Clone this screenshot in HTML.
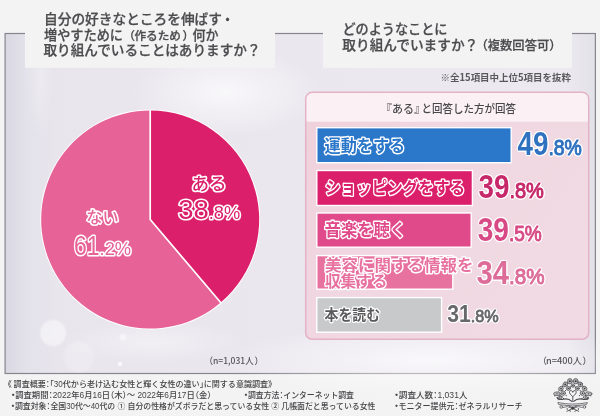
<!DOCTYPE html>
<html lang="ja">
<head>
<meta charset="utf-8">
<title>調査概要：30代から老け込む女性と輝く女性の違い</title>
<style>
  html, body { margin: 0; padding: 0; background: #f3f3f4; }
  body { width: 600px; height: 416px; overflow: hidden; position: relative;
         font-family: "Liberation Sans", "Noto Sans CJK JP", sans-serif; }
  svg { position: absolute; left: 0; top: 0; display: block; filter: blur(0.45px); }
  text { font-family: "Liberation Sans", "Noto Sans CJK JP", sans-serif; }
  .jp { font-family: "Noto Sans CJK JP", "Liberation Sans", sans-serif; }
  .hd { font-size: 13.6px; font-weight: 500; fill: #4c4c4f; stroke: #4c4c4f; stroke-width: 0.25px; }
  .ol { paint-order: stroke fill; stroke: #fff; stroke-linejoin: round; stroke-linecap: round; }
  .ol2 { stroke: #fff; stroke-width: 2px; stroke-linejoin: round; }
  .lbl { font-size: 17.4px; font-weight: 700; stroke-width: 2.8px; }
  .num { font-family: "Liberation Sans", sans-serif; font-weight: 700; }
  .num.ol { stroke-width: 2.6px; }
  .ft { font-size: 8.3px; font-weight: 500; fill: #454547; font-feature-settings: "halt"; }
</style>
</head>
<body>
<svg width="600" height="416" viewBox="0 0 600 416">
  <defs>
    <linearGradient id="bg" x1="0" y1="0" x2="1" y2="0">
      <stop offset="0" stop-color="#d9d7e1"/>
      <stop offset="0.035" stop-color="#e3e1e9"/>
      <stop offset="0.09" stop-color="#e8e5ed"/>
      <stop offset="0.5" stop-color="#ebe7ef"/>
      <stop offset="0.95" stop-color="#ece9f0"/>
      <stop offset="1" stop-color="#e3e1e8"/>
    </linearGradient>
    <radialGradient id="glow" cx="0.5" cy="0.5" r="0.5">
      <stop offset="0" stop-color="#ffffff" stop-opacity="0.85"/>
      <stop offset="1" stop-color="#ffffff" stop-opacity="0"/>
    </radialGradient>
    <radialGradient id="bokeh" cx="0.5" cy="0.5" r="0.5">
      <stop offset="0" stop-color="#ffffff" stop-opacity="0.55"/>
      <stop offset="0.8" stop-color="#ffffff" stop-opacity="0.5"/>
      <stop offset="1" stop-color="#ffffff" stop-opacity="0"/>
    </radialGradient>
    <linearGradient id="panel" x1="0" y1="0" x2="1" y2="0.6">
      <stop offset="0" stop-color="#efd0db"/>
      <stop offset="0.35" stop-color="#f0d6e0"/>
      <stop offset="1" stop-color="#f1dae3"/>
    </linearGradient>
    <clipPath id="panelclip"><rect x="305.7" y="92.3" width="283" height="247" rx="6.5"/></clipPath>
    <filter id="wo" x="-5%" y="-15%" width="110%" height="130%" color-interpolation-filters="sRGB">
      <feGaussianBlur in="SourceAlpha" stdDeviation="0.9" result="b"/>
      <feComponentTransfer in="b" result="d"><feFuncA type="linear" slope="9" intercept="-0.55"/></feComponentTransfer>
      <feFlood flood-color="#ffffff"/>
      <feComposite in2="d" operator="in" result="o"/>
      <feMerge><feMergeNode in="o"/><feMergeNode in="SourceGraphic"/></feMerge>
    </filter>
    <filter id="soft" x="-5%" y="-5%" width="110%" height="110%"><feGaussianBlur stdDeviation="0.4"/></filter>
  </defs>

  <!-- page -->
  <rect width="600" height="416" fill="#f3f3f4"/>

  <!-- frame -->
  <rect x="5.1" y="33.5" width="590.3" height="340" fill="url(#bg)" stroke="#86848d" stroke-width="1.2"/>
  <ellipse cx="225" cy="92" rx="95" ry="45" fill="url(#glow)" opacity="0.8"/>
  <ellipse cx="40" cy="80" rx="14" ry="60" fill="url(#glow)" opacity="0.35"/>
  <ellipse cx="430" cy="360" rx="210" ry="36" fill="url(#glow)" opacity="0.8"/>
  <ellipse cx="150" cy="342" rx="90" ry="22" fill="url(#glow)" opacity="0.45"/>
  <circle cx="53" cy="333" r="14.5" fill="url(#bokeh)" opacity="0.9"/>
  <circle cx="79" cy="357" r="17" fill="url(#bokeh)" opacity="0.4"/>
  <circle cx="123" cy="337" r="4" fill="url(#bokeh)" opacity="0.8"/>
  <circle cx="120" cy="364" r="2.2" fill="#ffffff" opacity="0.7"/>

  <!-- header boxes -->
  <rect x="25" y="0" width="250" height="67.8" fill="#f3f3f4"/>
  <rect x="323" y="0" width="249" height="67.8" fill="#f3f3f4"/>

  <g class="jp hd">
    <text y="23.7"><tspan x="44" textLength="178" lengthAdjust="spacingAndGlyphs">自分の好きなところを伸ばす</tspan><tspan x="220.8">・</tspan></text>
    <text y="39.9">
      <tspan x="44" textLength="79" lengthAdjust="spacingAndGlyphs">増やすために</tspan>
      <tspan x="123.5" font-size="11.4px">（</tspan>
      <tspan x="134.5" font-size="11.4px" textLength="46.5" lengthAdjust="spacingAndGlyphs">作るため</tspan>
      <tspan x="182.5" font-size="11.4px">）</tspan>
      <tspan x="192.5" textLength="26" lengthAdjust="spacingAndGlyphs">何か</tspan>
    </text>
    <text x="43.5" y="54.7" textLength="217" lengthAdjust="spacingAndGlyphs">取り組んでいることはありますか？</text>

    <text x="342.5" y="33.5" textLength="105" lengthAdjust="spacingAndGlyphs">どのようなことに</text>
    <text y="49.5">
      <tspan x="342.3" textLength="136" lengthAdjust="spacingAndGlyphs">取り組んでいますか？</tspan>
      <tspan x="475.5" font-size="12.4px" textLength="86" lengthAdjust="spacingAndGlyphs">（複数回答可）</tspan>
    </text>
  </g>

  <text class="jp" x="440.5" y="81" font-size="9.6px" font-weight="700" fill="#59595c" textLength="130.5" lengthAdjust="spacingAndGlyphs">※全15項目中上位5項目を抜粋</text>

  <!-- pie -->
  <g>
    <circle cx="150.2" cy="219.5" r="110" fill="#ffffff"/>
    <path d="M150.2 219.5 L150.2 110.5 A109 109 0 0 1 220.73 302.6 Z" fill="#dc1f6b"/>
    <path d="M150.2 219.5 L220.73 302.6 A109 109 0 1 1 150.2 110.5 Z" fill="#e66297"/>
    <path d="M150.2 110 L150.2 219.5 L221.1 303" fill="none" stroke="#ffffff" stroke-width="1.7" stroke-linejoin="round"/>
  </g>

  <text class="jp ol" x="209" y="190" text-anchor="middle" font-size="17.5px" font-weight="500" fill="#dc1f6b" stroke-width="3.2">ある</text>
  <g class="num ol" fill="#dc1f6b" style="font-weight:400; stroke-width:3.2px">
    <text transform="translate(178.2 219)"><tspan font-size="27.5px">38</tspan><tspan font-size="18.3px">.8%</tspan></text>
  </g>
  <text class="jp ol" x="102.5" y="223.3" text-anchor="middle" font-size="16.2px" font-weight="500" fill="#e66297" stroke-width="3.2">ない</text>
  <g class="num ol" fill="#e66297" style="font-weight:400; stroke-width:3.2px">
    <text transform="translate(74 254.8)"><tspan font-size="28.5px" textLength="25.6" lengthAdjust="spacingAndGlyphs">61</tspan><tspan font-size="18.3px">.2%</tspan></text>
  </g>

  <text class="jp" y="364.3" font-size="8.9px" font-weight="500" fill="#555557"><tspan x="204.2">（</tspan><tspan x="213" textLength="40.7" lengthAdjust="spacingAndGlyphs">n=1,031人</tspan><tspan x="254.6">）</tspan></text>

  <!-- right panel -->
  <rect x="305.7" y="92.3" width="283" height="247" rx="6.5" fill="url(#panel)"/>
  <rect x="305.7" y="92.3" width="283" height="29.4" fill="#fbf1f5" clip-path="url(#panelclip)"/>
  <rect x="305.7" y="92.3" width="283" height="247" rx="6.5" fill="none" stroke="#e4b2c6" stroke-width="1.5"/>
  <text class="jp" y="112.6" font-size="11px" font-weight="500" fill="#48484a"><tspan x="380.7">『</tspan><tspan x="392" textLength="22" lengthAdjust="spacingAndGlyphs">ある</tspan><tspan x="414.3">』</tspan><tspan x="421.5" textLength="94.5" lengthAdjust="spacingAndGlyphs">と回答した方が回答</tspan></text>

  <!-- bars -->
  <g stroke="#ffffff" stroke-width="1.4">
    <rect x="316.8" y="127.7" width="194.4" height="35" fill="#2b77c9"/>
    <rect x="316.8" y="170.5" width="155.6" height="35" fill="#dc1f6b"/>
    <rect x="316.8" y="213" width="154.4" height="34.2" fill="#e0498a"/>
    <rect x="316.8" y="255.6" width="136" height="33.6" fill="#e8729f"/>
    <rect x="316.8" y="297.6" width="124.8" height="34.6" fill="#c7c9ca"/>
  </g>

  <g class="jp lbl ol">
    <text x="324.6" y="151.6" fill="#2b77c9" textLength="80.5" lengthAdjust="spacingAndGlyphs">運動をする</text>
    <text x="325" y="193.8" fill="#dc1f6b" textLength="140" lengthAdjust="spacingAndGlyphs">ショッピングをする</text>
    <text x="324.6" y="236" fill="#e0498a" textLength="81.5" lengthAdjust="spacingAndGlyphs">音楽を聴く</text>
    <text x="325" y="271" fill="#e8729f" font-size="16.4px" textLength="148.5" lengthAdjust="spacingAndGlyphs">美容に関する情報を</text>
    <text x="325" y="287.3" fill="#e8729f" font-size="16.4px" textLength="62.5" lengthAdjust="spacingAndGlyphs">収集する</text>
    <text x="324.6" y="320" fill="#5a5a5d" font-size="14.8px" stroke-width="2.4" textLength="55.5" lengthAdjust="spacingAndGlyphs">本を読む</text>
  </g>

  <g class="num" filter="url(#wo)" stroke-linejoin="round">
    <text fill="#2f72bf" x="517.5" y="155.2"><tspan font-size="32.3px" textLength="30.9" lengthAdjust="spacingAndGlyphs">49</tspan><tspan font-weight="400" stroke="#2f72bf" stroke-width="1" font-size="22px" textLength="33.5" lengthAdjust="spacingAndGlyphs">.8%</tspan></text>
    <text fill="#c7286a" x="478.5" y="198.2"><tspan font-size="32.3px" textLength="30.9" lengthAdjust="spacingAndGlyphs">39</tspan><tspan font-weight="400" stroke="#c7286a" stroke-width="1" font-size="22px" textLength="34.5" lengthAdjust="spacingAndGlyphs">.8%</tspan></text>
    <text fill="#d84a85" x="477.7" y="241.2"><tspan font-size="32.3px" textLength="31.2" lengthAdjust="spacingAndGlyphs">39</tspan><tspan font-weight="400" stroke="#d84a85" stroke-width="1" font-size="22px" textLength="32.8" lengthAdjust="spacingAndGlyphs">.5%</tspan></text>
    <text fill="#dd6c99" x="476.5" y="284"><tspan font-size="32.3px" textLength="32.5" lengthAdjust="spacingAndGlyphs">34</tspan><tspan font-weight="400" stroke="#dd6c99" stroke-width="1" font-size="22px" textLength="35.5" lengthAdjust="spacingAndGlyphs">.8%</tspan></text>
    <text fill="#68686b" x="447.3" y="322.2"><tspan font-size="24px" textLength="23.5" lengthAdjust="spacingAndGlyphs">31</tspan><tspan font-weight="400" stroke="#68686b" stroke-width="0.8" font-size="17px" textLength="28" lengthAdjust="spacingAndGlyphs">.8%</tspan></text>
  </g>

  <text class="jp" y="364.3" font-size="8.9px" font-weight="500" fill="#555557"><tspan x="537.9">（</tspan><tspan x="546" textLength="36" lengthAdjust="spacingAndGlyphs">n=400人</tspan><tspan x="582.4">）</tspan></text>

  <!-- footer -->
  <g class="jp ft">
    <text y="386.6"><tspan x="7.6">《</tspan><tspan x="13.6" textLength="254.5" lengthAdjust="spacingAndGlyphs">調査概要：「30代から老け込む女性と輝く女性の違い」に関する意識調査</tspan><tspan x="268">》</tspan></text>
    <text x="11" y="397.8" textLength="200.5" lengthAdjust="spacingAndGlyphs"><tspan font-weight="900">・</tspan>調査期間：2022年6月16日（木）～ 2022年6月17日（金）</text>
    <text x="244" y="397.8" textLength="110" lengthAdjust="spacingAndGlyphs"><tspan font-weight="900">・</tspan>調査方法：インターネット調査</text>
    <text x="394.5" y="397.8" textLength="73" lengthAdjust="spacingAndGlyphs"><tspan font-weight="900">・</tspan>調査人数：1,031人</text>
    <text x="11" y="408.8" textLength="364.5" lengthAdjust="spacingAndGlyphs"><tspan font-weight="900">・</tspan>調査対象：全国30代～40代の ① 自分の性格がズボラだと思っている女性 ② 几帳面だと思っている女性</text>
    <text x="394.5" y="408.8" textLength="128" lengthAdjust="spacingAndGlyphs"><tspan font-weight="900">・</tspan>モニター提供元：ゼネラルリサーチ</text>
  </g>

  <!-- logo (ornamental emblem) -->
  <g id="logo" fill="none" stroke="#4a4a4e" stroke-width="0.7" stroke-linecap="round" stroke-linejoin="round">
    <ellipse cx="575.7" cy="381.2" rx="2.4" ry="2.7" fill="#4a4a4e" fill-opacity="0.38"/>
    <circle cx="575.7" cy="381.2" r="0.92" fill="#38383c" stroke="none"/>
    <ellipse cx="569.9" cy="381.2" rx="2.4" ry="2.7" fill="#4a4a4e" fill-opacity="0.38"/>
    <circle cx="569.9" cy="381.2" r="0.92" fill="#38383c" stroke="none"/>
    <ellipse cx="580.4" cy="384.4" rx="2.2" ry="2.5" fill="#4a4a4e" fill-opacity="0.36" transform="rotate(-30 580.4 384.4)"/>
    <circle cx="580.4" cy="384.4" r="0.85" fill="#38383c" stroke="none"/>
    <ellipse cx="565.2" cy="384.4" rx="2.2" ry="2.5" fill="#4a4a4e" fill-opacity="0.36" transform="rotate(30 565.2 384.4)"/>
    <circle cx="565.2" cy="384.4" r="0.85" fill="#38383c" stroke="none"/>
    <ellipse cx="572.8" cy="385.6" rx="1.7" ry="1.7" fill="#4a4a4e" fill-opacity="0.4"/>
    <circle cx="572.8" cy="385.6" r="0.60" fill="#38383c" stroke="none"/>
    <ellipse cx="584.6" cy="388.6" rx="2.1" ry="2.4" fill="#4a4a4e" fill-opacity="0.32" transform="rotate(-50 584.6 388.6)"/>
    <circle cx="584.6" cy="388.6" r="0.82" fill="#38383c" stroke="none"/>
    <ellipse cx="561.0" cy="388.6" rx="2.1" ry="2.4" fill="#4a4a4e" fill-opacity="0.32" transform="rotate(50 561.0 388.6)"/>
    <circle cx="561.0" cy="388.6" r="0.82" fill="#38383c" stroke="none"/>
    <ellipse cx="577.3" cy="388.4" rx="2.0" ry="2.0" fill="#4a4a4e" fill-opacity="0.36"/>
    <circle cx="577.3" cy="388.4" r="0.68" fill="#38383c" stroke="none"/>
    <ellipse cx="568.3" cy="388.4" rx="2.0" ry="2.0" fill="#4a4a4e" fill-opacity="0.36"/>
    <circle cx="568.3" cy="388.4" r="0.68" fill="#38383c" stroke="none"/>
    <ellipse cx="588.6" cy="393.8" rx="3.4" ry="1.9" fill="#4a4a4e" fill-opacity="0.3"/>
    <circle cx="588.6" cy="393.8" r="0.65" fill="#38383c" stroke="none"/>
    <ellipse cx="557.0" cy="393.8" rx="3.4" ry="1.9" fill="#4a4a4e" fill-opacity="0.3"/>
    <circle cx="557.0" cy="393.8" r="0.65" fill="#38383c" stroke="none"/>
    <ellipse cx="582.4" cy="393.2" rx="2.2" ry="2.2" fill="#4a4a4e" fill-opacity="0.3"/>
    <circle cx="582.4" cy="393.2" r="0.75" fill="#38383c" stroke="none"/>
    <ellipse cx="563.2" cy="393.2" rx="2.2" ry="2.2" fill="#4a4a4e" fill-opacity="0.3"/>
    <circle cx="563.2" cy="393.2" r="0.75" fill="#38383c" stroke="none"/>
    <ellipse cx="585.8" cy="397.8" rx="2.6" ry="1.6" fill="#4a4a4e" fill-opacity="0.3" transform="rotate(25 585.8 397.8)"/>
    <circle cx="585.8" cy="397.8" r="0.60" fill="#38383c" stroke="none"/>
    <ellipse cx="559.8" cy="397.8" rx="2.6" ry="1.6" fill="#4a4a4e" fill-opacity="0.3" transform="rotate(-25 559.8 397.8)"/>
    <circle cx="559.8" cy="397.8" r="0.60" fill="#38383c" stroke="none"/>
    <circle cx="578.2" cy="382.8" r="0.6" fill="#444448" stroke="none"/>
    <circle cx="567.4" cy="382.8" r="0.6" fill="#444448" stroke="none"/>
    <circle cx="583.0" cy="386.4" r="0.6" fill="#444448" stroke="none"/>
    <circle cx="562.6" cy="386.4" r="0.6" fill="#444448" stroke="none"/>
    <circle cx="575.1" cy="386.9" r="0.6" fill="#444448" stroke="none"/>
    <circle cx="570.5" cy="386.9" r="0.6" fill="#444448" stroke="none"/>
    <circle cx="587.0" cy="391.0" r="0.6" fill="#444448" stroke="none"/>
    <circle cx="558.6" cy="391.0" r="0.6" fill="#444448" stroke="none"/>
    <circle cx="580.1" cy="390.6" r="0.6" fill="#444448" stroke="none"/>
    <circle cx="565.5" cy="390.6" r="0.6" fill="#444448" stroke="none"/>
    <circle cx="585.6" cy="395.6" r="0.6" fill="#444448" stroke="none"/>
    <circle cx="560.0" cy="395.6" r="0.6" fill="#444448" stroke="none"/>
    <circle cx="579.4" cy="395.6" r="0.6" fill="#444448" stroke="none"/>
    <circle cx="566.2" cy="395.6" r="0.6" fill="#444448" stroke="none"/>
    <circle cx="590.8" cy="395.8" r="0.6" fill="#444448" stroke="none"/>
    <circle cx="554.8" cy="395.8" r="0.6" fill="#444448" stroke="none"/>
    <circle cx="582.0" cy="398.4" r="0.6" fill="#444448" stroke="none"/>
    <circle cx="563.6" cy="398.4" r="0.6" fill="#444448" stroke="none"/>
    <path d="M572.8 391.9 c-0.9 -2.2 -3.8 -1.6 -3.3 0.7 c0.4 1.7 2.1 2.8 3.3 4.1 c1.2 -1.3 2.9 -2.4 3.3 -4.1 c0.5 -2.3 -2.4 -2.9 -3.3 -0.7z" fill="#f7f6f9" stroke-width="1"/>
    <path d="M572.8 397 v4.6" stroke-width="0.9"/>
    <path d="M571.8 401.4 q-3.4 -3.4 -8.6 -2.2 q-4 1 -6.2 -1.6 M573.8 401.4 q3.4 -3.4 8.6 -2.2 q4 1 6.2 -1.6" stroke-width="1.1"/>
    <path d="M558.1999999999999 402.6 q14.6 3 29.2 0 l-1 2.1 q-13.6 2.6 -27.2 0z" fill="#f4f3f7" stroke-width="0.75"/>
    <circle cx="561.1999999999999" cy="407" r="1.3"/><circle cx="584.4" cy="407" r="1.3"/>
    <path d="M563.1999999999999 407.4 q4.2 -2 7.6 0.4 M582.4 407.4 q-4.2 -2 -7.6 0.4"/>
    <path d="M569.0 406 l7.6 4.4 M576.5999999999999 406 l-7.6 4.4" stroke-width="0.9"/>
    <circle cx="572.8" cy="408.2" r="1.2" fill="#38383c"/>
    <path d="M566.8 411.2 q2 -2 4 0 M574.8 411.2 q2 -2 4 0" stroke-width="0.85"/>
    <circle cx="567.1999999999999" cy="409" r="0.7" fill="#38383c" stroke="none"/><circle cx="578.4" cy="409" r="0.7" fill="#38383c" stroke="none"/>
  </g>
</svg>
</body>
</html>
